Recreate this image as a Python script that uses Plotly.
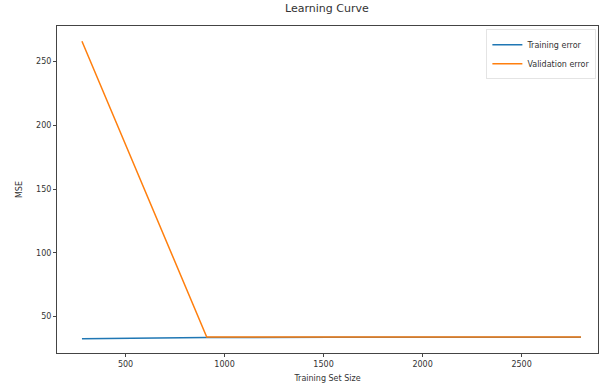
import plotly.graph_objects as go

train_sizes = [280, 910, 1540, 2170, 2800]
training_error = [32.6, 33.6, 33.7, 33.8, 33.8]
validation_error = [266, 34.0, 34.0, 33.9, 33.9]

x_ticks = [500, 1000, 1500, 2000, 2500]
y_ticks = [50, 100, 150, 200, 250]

fig = go.Figure()
fig.add_trace(go.Scatter(x=train_sizes, y=training_error, mode="lines", name="Training error",
                         line=dict(color="#1f77b4", width=1.5)))
fig.add_trace(go.Scatter(x=train_sizes, y=validation_error, mode="lines", name="Validation error",
                         line=dict(color="#ff7f0e", width=1.5)))

axis_common = dict(showline=True, linecolor="#444", linewidth=1, mirror=True, ticks="outside",
                   ticklen=3, tickcolor="#444", showgrid=False, zeroline=False, automargin=False,
                   tickfont=dict(size=8, color="#333"))

fig.update_layout(
    width=611, height=385,
    margin=dict(l=57, r=13, t=26, b=32),
    paper_bgcolor="white", plot_bgcolor="white",
    font=dict(family="DejaVu Sans", color="#333"),
    title=dict(text="Learning Curve", x=0.535, xanchor="center", y=0.99, yanchor="top",
               font=dict(size=11, color="#333")),
    xaxis=dict(range=[154, 2886], tickvals=x_ticks,
               title=dict(text="Training Set Size", font=dict(size=8), standoff=7), **axis_common),
    yaxis=dict(range=[21.4, 278], tickvals=y_ticks,
               title=dict(text="MSE", font=dict(size=8), standoff=12), **axis_common),
    legend=dict(x=0.997, y=0.99, xanchor="right", yanchor="top", bordercolor="#e4e4e4", borderwidth=1,
                bgcolor="rgba(255,255,255,0.8)", font=dict(size=8, color="#333"),
                itemwidth=30, tracegroupgap=0),
    showlegend=True,
)

fig.write_html("out.html")
